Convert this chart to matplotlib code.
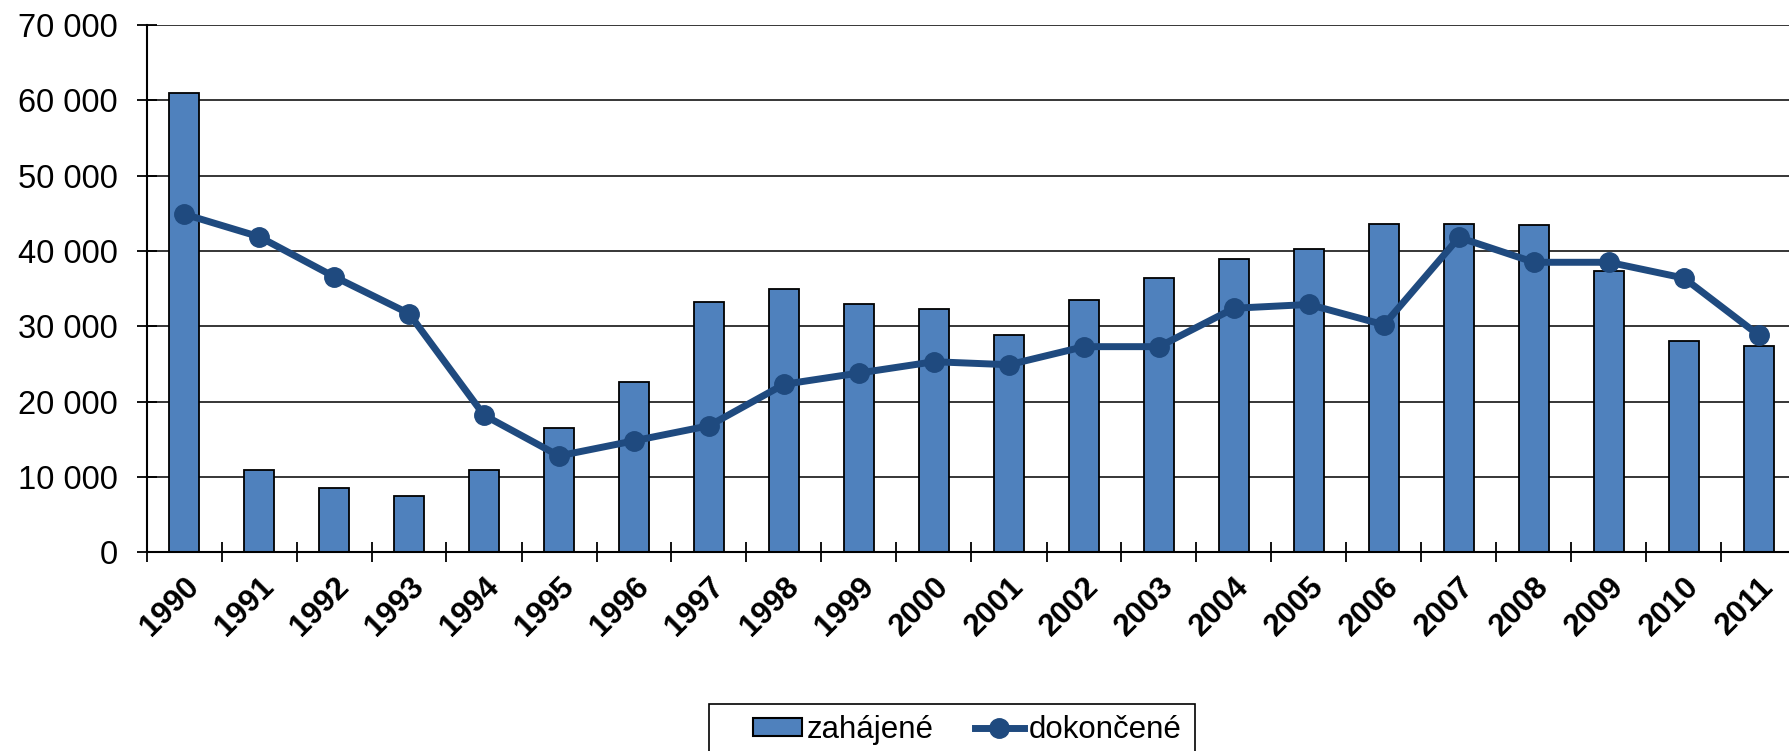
import matplotlib
matplotlib.use("Agg")
import matplotlib.pyplot as plt
import matplotlib.transforms as mtransforms
from matplotlib.patches import Patch, Rectangle
from matplotlib.lines import Line2D
import numpy as np

plt.rcParams['font.family'] = ['Liberation Sans', 'DejaVu Sans']

years = ['1990', '1991', '1992', '1993', '1994', '1995', '1996', '1997', '1998', '1999', '2000',
         '2001', '2002', '2003', '2004', '2005', '2006', '2007', '2008', '2009', '2010', '2011']
zahajene = [61000, 10900, 8500, 7500, 10900, 16500, 22600, 33200, 34900, 33000, 32300,
            28900, 33500, 36400, 39000, 40300, 43600, 43600, 43400, 37400, 28100, 27400]
dokoncene = [44900, 41900, 36600, 31700, 18200, 12800, 14800, 16800, 22300, 23800, 25300,
             24900, 27300, 27300, 32400, 32900, 30200, 41800, 38500, 38500, 36400, 28800]
yticks = [0, 10000, 20000, 30000, 40000, 50000, 60000, 70000]
ytick_labels = ['0', '10 000', '20 000', '30 000', '40 000', '50 000', '60 000', '70 000']
series_names = ['zahájené', 'dokončené']

W, H = 1789, 751
fig = plt.figure(figsize=(W / 100, H / 100), dpi=100)
left, right, top, bottom = 146.5, 1796.5, 25.0, 552.3
ax = fig.add_axes([left / W, 1 - bottom / H, (right - left) / W, (bottom - top) / H])

bar_color = '#4F81BD'
line_color = '#1F4A7F'
x = np.arange(len(years))
ax.bar(x, zahajene, width=0.41, color=bar_color, edgecolor='black', linewidth=1.3, zorder=2)
ax.plot(x, dokoncene, color=line_color, linewidth=5, marker='o', markersize=14, zorder=3)

ax.set_xlim(-0.5, len(years) - 0.5)
ax.set_ylim(0, 70000)
ax.set_yticks(yticks)
ax.set_yticklabels(ytick_labels, fontsize=23.5)
ax.yaxis.grid(True, color='black', linewidth=1.1, zorder=0)
ax.set_axisbelow(True)

ax.set_xticks(x)
ax.set_xticklabels(years, fontsize=22.5, fontweight='bold', rotation=45, ha='right',
                   rotation_mode='anchor')
shift = mtransforms.ScaledTranslation(-11 / 100, -2 / 100, fig.dpi_scale_trans)
for lab in ax.get_xticklabels():
    lab.set_transform(lab.get_transform() + shift)
ax.set_xticks(np.arange(-0.5, len(years), 1.0), minor=True)
ax.tick_params(axis='x', which='major', length=0, pad=14)
ax.tick_params(axis='x', which='minor', direction='inout', length=15, width=1.3)
ax.tick_params(axis='y', direction='inout', length=15, width=1.3, pad=13)

for s in ['top', 'right']:
    ax.spines[s].set_visible(False)
for s in ['left', 'bottom']:
    ax.spines[s].set_linewidth(1.5)
    ax.spines[s].set_color('black')

fs = 22.5
handles = [Patch(facecolor=bar_color, edgecolor='black', linewidth=1.5),
           Line2D([0], [0], color=line_color, linewidth=5, marker='o', markersize=14)]
leg = fig.legend(handles, series_names, loc='center left',
                 bbox_to_anchor=(753 / W, 1 - 730 / H), ncol=2, fontsize=fs,
                 frameon=False, handlelength=1.58, handleheight=0.5,
                 handletextpad=0.15, columnspacing=1.3, borderpad=0, borderaxespad=0)
fig.patches.append(Rectangle((709 / W, 1 - 770 / H), (1195 - 709) / W, (770 - 704) / H,
                             transform=fig.transFigure, fill=False, edgecolor='black',
                             linewidth=1.2))

fig.savefig('out.png', dpi=100)
